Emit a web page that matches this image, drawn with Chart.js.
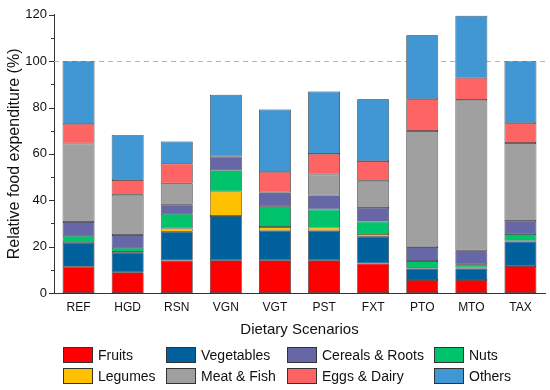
<!DOCTYPE html>
<html lang="en">

<head>
    <meta charset="UTF-8">
    <title>Relative food expenditure</title>
    <style>
        body { margin: 0; background: #fff; font-family: "Liberation Sans", Arial, sans-serif; }
        .wrap { position: relative; width: 550px; height: 390px; }
        .grafico { position: absolute; left: 0; top: 0; width: 550px; height: 345px; }
        .legenda { position: absolute; left: 0; top: 0; width: 550px; height: 390px; pointer-events: none; }
        .item { position: absolute; display: flex; align-items: center; font-size: 14px; color: #111; white-space: nowrap; }
        .caixa { width: 28px; height: 14px; border: 1px solid #333; margin-right: 5px; }
    </style>
</head>

<body>
    <div class="wrap">
        <div class="grafico"><canvas id="grafico"></canvas></div>
        <div class="legenda" id="legenda"></div>
    </div>

    <script src="https://cdn.jsdelivr.net/npm/chart.js"></script>
    <script>
        const cenarios = ['REF', 'HGD', 'RSN', 'VGN', 'VGT', 'PST', 'FXT', 'PTO', 'MTO', 'TAX']
        const yTicks = [0, 20, 40, 60, 80, 100, 120]

        // stacked from the bottom up
        const fruits     = [11.3, 8.9, 14.0, 14.1, 14.1, 14.1, 12.7, 5.6, 5.6, 11.6]
        const vegetables = [10.3, 8.5, 12.4, 19.1, 12.7, 12.7, 11.6, 5.0, 5.0, 10.6]
        const legumes    = [0.3, 0.3, 1.4, 10.6, 1.7, 1.4, 1.1, 0.3, 0.4, 0.3]
        const nuts       = [2.8, 1.8, 6.4, 9.2, 8.9, 7.8, 5.4, 2.9, 1.4, 2.9]
        const cereals    = [5.9, 5.5, 3.9, 5.9, 6.0, 6.1, 5.9, 6.0, 6.0, 5.7]
        const meatFish   = [33.9, 17.4, 9.2, 0, 0, 9.0, 11.7, 50.1, 64.9, 33.6]
        const eggsDairy  = [8.5, 6.3, 8.5, 0, 8.9, 8.9, 8.5, 13.7, 9.5, 8.5]
        const others     = [27.0, 19.5, 9.5, 26.6, 26.8, 26.9, 26.7, 27.6, 26.8, 26.8]

        const series = [
            { label: 'Fruits', data: fruits, cor: '#ff0000' },
            { label: 'Vegetables', data: vegetables, cor: '#00619c' },
            { label: 'Legumes', data: legumes, cor: '#ffc000' },
            { label: 'Nuts', data: nuts, cor: '#00c46c' },
            { label: 'Cereals & Roots', data: cereals, cor: '#6767a8' },
            { label: 'Meat & Fish', data: meatFish, cor: '#a0a0a0' },
            { label: 'Eggs & Dairy', data: eggsDairy, cor: '#ff6464' },
            { label: 'Others', data: others, cor: '#4197d3' }
        ]

        // legend order in the picture (2 rows x 4 columns)
        const ordemLegenda = ['Fruits', 'Vegetables', 'Cereals & Roots', 'Nuts',
            'Legumes', 'Meat & Fish', 'Eggs & Dairy', 'Others']
        const colunasX = [63, 166, 287, 434]
        const linhasY = [347, 368]

        const legenda = document.getElementById('legenda')
        ordemLegenda.forEach((nome, i) => {
            const s = series.find(x => x.label === nome)
            const el = document.createElement('div')
            el.className = 'item'
            el.style.left = colunasX[i % 4] + 'px'
            el.style.top = linhasY[Math.floor(i / 4)] + 'px'
            el.innerHTML = '<span class="caixa" style="background:' + s.cor + '"></span>' + nome
            legenda.appendChild(el)
        })

        // dashed 100% reference line and the y tick marks
        const extras = {
            id: 'extras',
            beforeDatasetsDraw(chart) {
                const { ctx, chartArea, scales } = chart
                const y = scales.y.getPixelForValue(100)
                ctx.save()
                ctx.strokeStyle = '#b5b5b5'
                ctx.lineWidth = 1
                ctx.setLineDash([5, 4])
                ctx.beginPath()
                ctx.moveTo(chartArea.left, Math.round(y) + 0.5)
                ctx.lineTo(chartArea.right, Math.round(y) + 0.5)
                ctx.stroke()
                ctx.restore()
            },
            afterDraw(chart) {
                const { ctx, chartArea, scales } = chart
                ctx.save()
                ctx.strokeStyle = '#333'
                ctx.lineWidth = 1
                for (let v = 0; v <= 120; v += 10) {
                    const y = Math.round(scales.y.getPixelForValue(v)) + 0.5
                    const len = v % 20 === 0 ? 5 : 3
                    ctx.beginPath()
                    ctx.moveTo(chartArea.left - len, y)
                    ctx.lineTo(chartArea.left, y)
                    ctx.stroke()
                }
                ctx.restore()
            }
        }

        const fonte = 'Liberation Sans, Arial, sans-serif'

        new Chart(document.getElementById('grafico'), {
            type: 'bar',
            data: {
                labels: cenarios,
                datasets: series.map(s => ({
                    label: s.label,
                    data: s.data,
                    backgroundColor: s.cor,
                    borderColor: '#1e1e1e',
                    borderWidth: 0.7,
                    borderSkipped: false,
                    barPercentage: 0.65,
                    categoryPercentage: 1
                }))
            },
            options: {
                responsive: true,
                maintainAspectRatio: false,
                animation: false,
                layout: { padding: { top: 10, right: 5, left: 0, bottom: 0 } },
                plugins: {
                    legend: { display: false },
                    tooltip: { enabled: false }
                },
                scales: {
                    x: {
                        stacked: true,
                        grid: { display: false, drawTicks: false },
                        border: { color: '#333', width: 1 },
                        ticks: { color: '#111', padding: 7, font: { family: fonte, size: 12 } },
                        title: {
                            display: true,
                            text: 'Dietary Scenarios',
                            color: '#111',
                            font: { family: fonte, size: 15 },
                            padding: { top: 0, bottom: 6 }
                        },
                        afterFit: (scale) => { scale.height = 52 }
                    },
                    y: {
                        stacked: true,
                        min: 0,
                        max: 120,
                        afterBuildTicks: (scale) => { scale.ticks = yTicks.map(v => ({ value: v })) },
                        grid: { display: false, drawTicks: false },
                        border: { color: '#333', width: 1 },
                        ticks: { color: '#111', padding: 7, font: { family: fonte, size: 13 } },
                        title: {
                            display: true,
                            text: 'Relative food expenditure (%)',
                            color: '#111',
                            font: { family: fonte, size: 16 },
                            padding: { top: 5, bottom: 0 }
                        },
                        afterFit: (scale) => { scale.width = 54 }
                    }
                }
            },
            plugins: [extras]
        })
    </script>
</body>

</html>
